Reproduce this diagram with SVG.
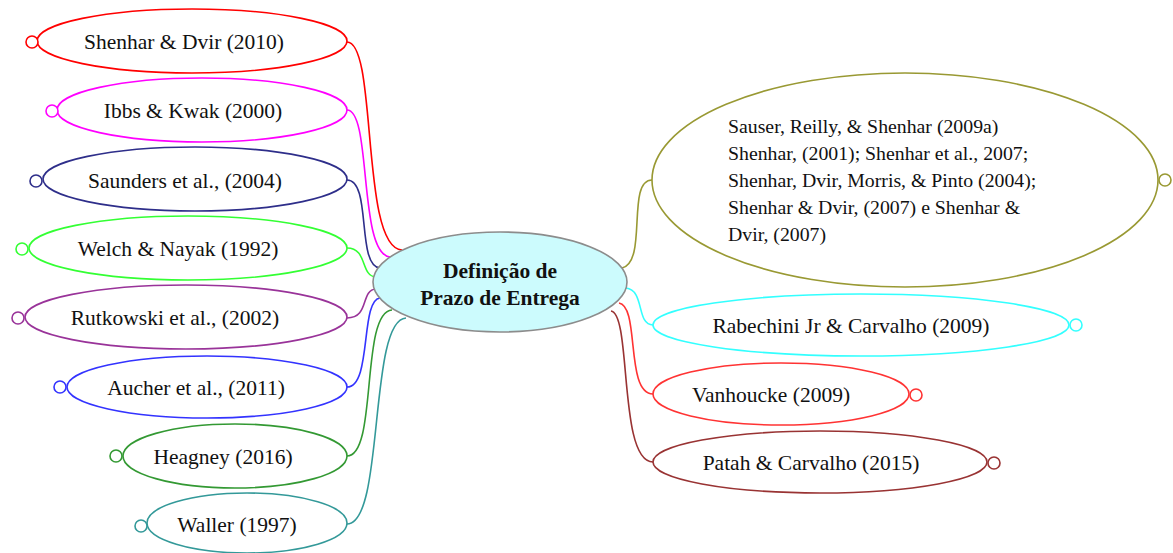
<svg xmlns="http://www.w3.org/2000/svg" width="1173" height="553" viewBox="0 0 1173 553">
  <style>
    .node ellipse, .node circle { fill: #ffffff; stroke-width: 1.6; }
    .node text { font-family: "Liberation Serif", "Times New Roman", serif; font-size: 21.5px; fill: #111111; }
    .node text.body { font-size: 19.8px; }
    .lbl { text-anchor: middle; }
    .links path { fill: none; stroke-width: 1.6; }
    .center ellipse { fill: #ccfbfd; stroke: #8c8c8c; stroke-width: 1.6; }
    .center text { font-family: "Liberation Serif", "Times New Roman", serif; font-size: 21.5px; font-weight: bold; text-anchor: middle; fill: #111111; }
  </style>

  <!-- connectors from the central topic to each branch -->
  <g id="connectors" class="links">
    <path d="M347,42 C378,42 360,248 402,250" stroke="#ff0000"/>
    <path d="M347,110 C372,110 358,254 390,257" stroke="#ff00ff"/>
    <path d="M347,180 C372,180 356,266 380,268" stroke="#2e2e8a"/>
    <path d="M347,248 C368,248 360,276 376,277" stroke="#33ff33"/>
    <path d="M347,318 C370,318 360,290 376,289" stroke="#993399"/>
    <path d="M347,387 C372,387 360,300 380,298" stroke="#3333ff"/>
    <path d="M347,456 C378,456 360,312 392,310" stroke="#339933"/>
    <path d="M347,524 C385,524 368,320 406,318" stroke="#339999"/>
    <path d="M622,268 C648,262 626,180 652,180" stroke="#999933"/>
    <path d="M626,288 C645,290 636,325 653,325" stroke="#33ffff"/>
    <path d="M619,303 C640,306 625,394 653,394" stroke="#ff3333"/>
    <path d="M611,311 C632,314 618,462 653,462" stroke="#993333"/>
  </g>

  <!-- central topic -->
  <g id="center" class="center">
    <ellipse cx="500" cy="282" rx="127" ry="50"/>
    <text x="500" y="278">Definição de</text>
    <text x="500" y="305">Prazo de Entrega</text>
  </g>

  <!-- left branches -->
  <g id="n-shenhar-dvir-2010" class="node">
    <ellipse cx="192" cy="41" rx="155" ry="32" stroke="#ff0000"/>
    <circle cx="32" cy="42" r="6" stroke="#ff0000"/>
    <text class="lbl" x="184" y="49">Shenhar &amp; Dvir (2010)</text>
  </g>
  <g id="n-ibbs-kwak" class="node">
    <ellipse cx="202" cy="110" rx="145" ry="32" stroke="#ff00ff"/>
    <circle cx="52" cy="111" r="6" stroke="#ff00ff"/>
    <text class="lbl" x="193" y="118">Ibbs &amp; Kwak (2000)</text>
  </g>
  <g id="n-saunders" class="node">
    <ellipse cx="195" cy="179" rx="152" ry="32" stroke="#2e2e8a"/>
    <circle cx="36" cy="181" r="6" stroke="#2e2e8a"/>
    <text class="lbl" x="185" y="188">Saunders et al., (2004)</text>
  </g>
  <g id="n-welch-nayak" class="node">
    <ellipse cx="188" cy="248" rx="159" ry="32" stroke="#33ff33"/>
    <circle cx="22" cy="249" r="6" stroke="#33ff33"/>
    <text class="lbl" x="178" y="256">Welch &amp; Nayak (1992)</text>
  </g>
  <g id="n-rutkowski" class="node">
    <ellipse cx="186" cy="317" rx="161" ry="32" stroke="#993399"/>
    <circle cx="18" cy="318" r="6" stroke="#993399"/>
    <text class="lbl" x="175" y="325">Rutkowski et al., (2002)</text>
  </g>
  <g id="n-aucher" class="node">
    <ellipse cx="207" cy="387" rx="140" ry="31" stroke="#3333ff"/>
    <circle cx="60" cy="387" r="6" stroke="#3333ff"/>
    <text class="lbl" x="196" y="395">Aucher et al., (2011)</text>
  </g>
  <g id="n-heagney" class="node">
    <ellipse cx="235" cy="456" rx="112" ry="32" stroke="#339933"/>
    <circle cx="116" cy="456" r="6" stroke="#339933"/>
    <text class="lbl" x="223" y="464">Heagney (2016)</text>
  </g>
  <g id="n-waller" class="node">
    <ellipse cx="247" cy="523" rx="100" ry="30" stroke="#339999"/>
    <circle cx="141" cy="526" r="6" stroke="#339999"/>
    <text class="lbl" x="237" y="532">Waller (1997)</text>
  </g>

  <!-- right branches -->
  <g id="n-sauser-shenhar" class="node">
    <ellipse cx="905" cy="180" rx="253" ry="107" stroke="#999933"/>
    <circle cx="1165" cy="180" r="6" stroke="#999933"/>
    <text class="body" x="728" y="133">Sauser, Reilly, &amp; Shenhar (2009a)</text>
    <text class="body" x="728" y="160">Shenhar, (2001); Shenhar et al., 2007;</text>
    <text class="body" x="728" y="187">Shenhar, Dvir, Morris, &amp; Pinto (2004);</text>
    <text class="body" x="728" y="214">Shenhar &amp; Dvir, (2007) e Shenhar &amp;</text>
    <text class="body" x="728" y="241">Dvir, (2007)</text>
  </g>
  <g id="n-rabechini" class="node">
    <ellipse cx="861" cy="325" rx="208" ry="31" stroke="#33ffff"/>
    <circle cx="1076" cy="325" r="6" stroke="#33ffff"/>
    <text class="lbl" x="851" y="333">Rabechini Jr &amp; Carvalho (2009)</text>
  </g>
  <g id="n-vanhoucke" class="node">
    <ellipse cx="781" cy="394" rx="128" ry="31" stroke="#ff3333"/>
    <circle cx="916" cy="395" r="6" stroke="#ff3333"/>
    <text class="lbl" x="771" y="402">Vanhoucke (2009)</text>
  </g>
  <g id="n-patah" class="node">
    <ellipse cx="820" cy="462" rx="167" ry="31" stroke="#993333"/>
    <circle cx="994" cy="463" r="6" stroke="#993333"/>
    <text class="lbl" x="811" y="470">Patah &amp; Carvalho (2015)</text>
  </g>
</svg>
